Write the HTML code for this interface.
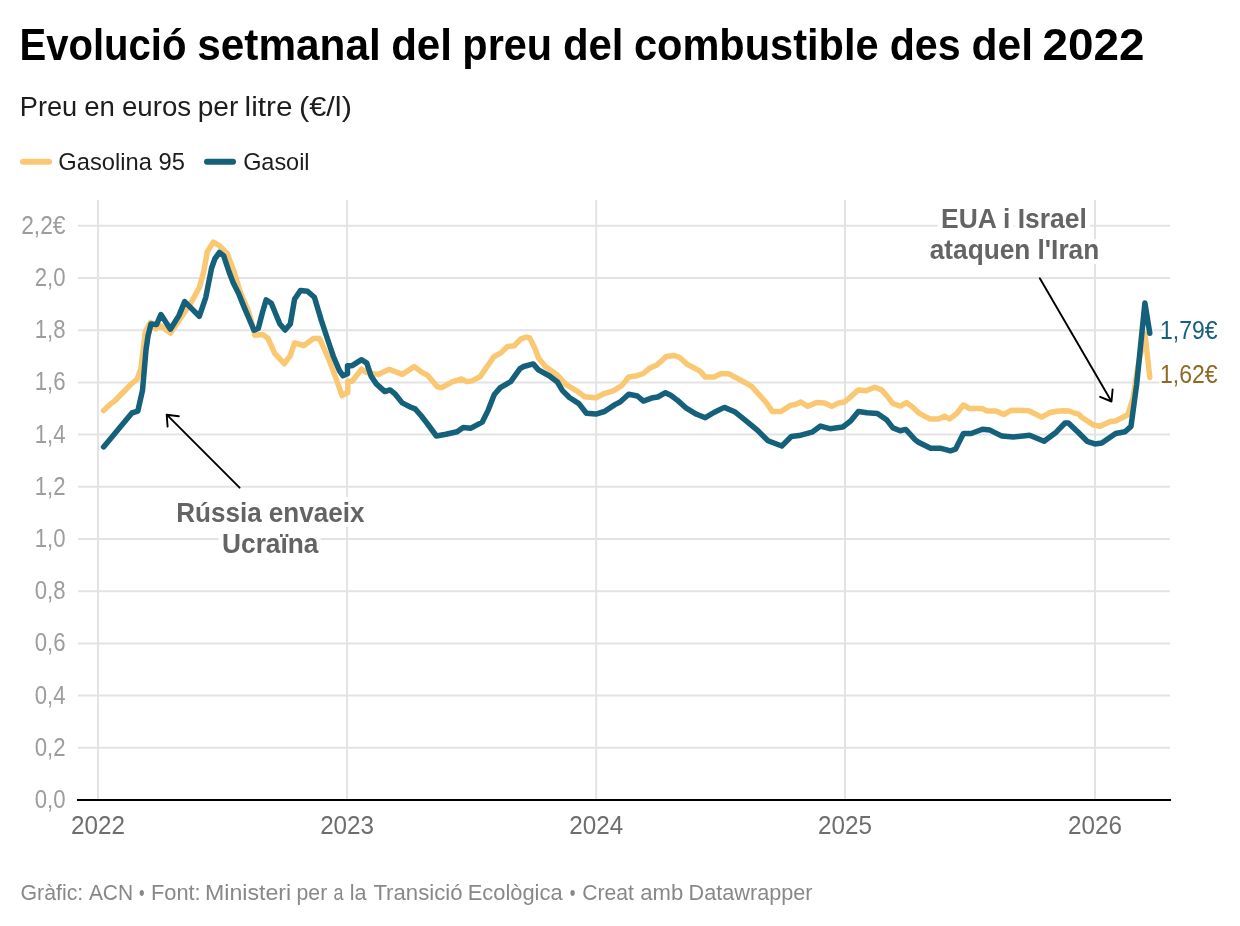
<!DOCTYPE html>
<html><head><meta charset="utf-8">
<style>
html,body{margin:0;padding:0;background:#fff;width:1240px;height:926px;overflow:hidden}
svg{position:absolute;left:0;top:0;display:block;will-change:transform}
text{font-family:"Liberation Sans",sans-serif}
</style></head><body>
<svg width="1240" height="926" viewBox="0 0 1240 926">
<rect width="1240" height="926" fill="#fff"/>
<text x="19.43" y="59.7" font-size="45" font-weight="bold" fill="#000" textLength="166.95" lengthAdjust="spacingAndGlyphs">Evolució</text><text x="197.22" y="59.7" font-size="45" font-weight="bold" fill="#000" textLength="183.51" lengthAdjust="spacingAndGlyphs">setmanal</text><text x="391.13" y="59.7" font-size="45" font-weight="bold" fill="#000" textLength="60.91" lengthAdjust="spacingAndGlyphs">del</text><text x="462.34" y="59.7" font-size="45" font-weight="bold" fill="#000" textLength="89.78" lengthAdjust="spacingAndGlyphs">preu</text><text x="562.94" y="59.7" font-size="45" font-weight="bold" fill="#000" textLength="60.59" lengthAdjust="spacingAndGlyphs">del</text><text x="633.95" y="59.7" font-size="45" font-weight="bold" fill="#000" textLength="244.61" lengthAdjust="spacingAndGlyphs">combustible</text><text x="889.67" y="59.7" font-size="45" font-weight="bold" fill="#000" textLength="70.94" lengthAdjust="spacingAndGlyphs">des</text><text x="971.51" y="59.7" font-size="45" font-weight="bold" fill="#000" textLength="61.56" lengthAdjust="spacingAndGlyphs">del</text><text x="1042.46" y="59.7" font-size="45" font-weight="bold" fill="#000" textLength="101.99" lengthAdjust="spacingAndGlyphs">2022</text>
<text x="19.77" y="115.6" font-size="26.8" fill="#1d1d1d" textLength="57.46" lengthAdjust="spacingAndGlyphs">Preu</text><text x="84.17" y="115.6" font-size="26.8" fill="#1d1d1d" textLength="30.70" lengthAdjust="spacingAndGlyphs">en</text><text x="121.97" y="115.6" font-size="26.8" fill="#1d1d1d" textLength="69.21" lengthAdjust="spacingAndGlyphs">euros</text><text x="197.71" y="115.6" font-size="26.8" fill="#1d1d1d" textLength="40.56" lengthAdjust="spacingAndGlyphs">per</text><text x="244.58" y="115.6" font-size="26.8" fill="#1d1d1d" textLength="47.94" lengthAdjust="spacingAndGlyphs">litre</text><text x="299.01" y="115.6" font-size="26.8" fill="#1d1d1d" textLength="52.92" lengthAdjust="spacingAndGlyphs">(€/l)</text>
<line x1="23" y1="161.8" x2="49" y2="161.8" stroke="#fac773" stroke-width="6" stroke-linecap="round"/>
<text x="58.33" y="169.6" font-size="24.5" fill="#1d1d1d" textLength="126.51" lengthAdjust="spacingAndGlyphs">Gasolina 95</text><text x="243.14" y="169.6" font-size="24.5" fill="#1d1d1d" textLength="66.45" lengthAdjust="spacingAndGlyphs">Gasoil</text>
<line x1="207" y1="161.8" x2="233" y2="161.8" stroke="#15607a" stroke-width="6" stroke-linecap="round"/>

<g stroke="#e3e3e3" stroke-width="2">
<line x1="78" y1="747.8" x2="1170" y2="747.8"/><line x1="78" y1="695.6" x2="1170" y2="695.6"/><line x1="78" y1="643.4" x2="1170" y2="643.4"/><line x1="78" y1="591.2" x2="1170" y2="591.2"/><line x1="78" y1="539.0" x2="1170" y2="539.0"/><line x1="78" y1="486.8" x2="1170" y2="486.8"/><line x1="78" y1="434.6" x2="1170" y2="434.6"/><line x1="78" y1="382.4" x2="1170" y2="382.4"/><line x1="78" y1="330.2" x2="1170" y2="330.2"/><line x1="78" y1="278.0" x2="1170" y2="278.0"/><line x1="78" y1="225.8" x2="1170" y2="225.8"/><line x1="98" y1="200" x2="98" y2="799"/><line x1="347.1" y1="200" x2="347.1" y2="799"/><line x1="596.2" y1="200" x2="596.2" y2="799"/><line x1="845" y1="200" x2="845" y2="799"/><line x1="1095" y1="200" x2="1095" y2="799"/>
</g>
<line x1="77" y1="800" x2="1171" y2="800" stroke="#000" stroke-width="2"/>
<g font-size="25.3" fill="#9d9d9d">
<text x="65.5" y="807.9" text-anchor="end" textLength="30.8" lengthAdjust="spacingAndGlyphs">0,0</text><text x="65.5" y="755.7" text-anchor="end" textLength="30.8" lengthAdjust="spacingAndGlyphs">0,2</text><text x="65.5" y="703.5" text-anchor="end" textLength="30.8" lengthAdjust="spacingAndGlyphs">0,4</text><text x="65.5" y="651.3" text-anchor="end" textLength="30.8" lengthAdjust="spacingAndGlyphs">0,6</text><text x="65.5" y="599.1" text-anchor="end" textLength="30.8" lengthAdjust="spacingAndGlyphs">0,8</text><text x="65.5" y="546.9" text-anchor="end" textLength="30.8" lengthAdjust="spacingAndGlyphs">1,0</text><text x="65.5" y="494.7" text-anchor="end" textLength="30.8" lengthAdjust="spacingAndGlyphs">1,2</text><text x="65.5" y="442.5" text-anchor="end" textLength="30.8" lengthAdjust="spacingAndGlyphs">1,4</text><text x="65.5" y="390.3" text-anchor="end" textLength="30.8" lengthAdjust="spacingAndGlyphs">1,6</text><text x="65.5" y="338.1" text-anchor="end" textLength="30.8" lengthAdjust="spacingAndGlyphs">1,8</text><text x="65.5" y="285.9" text-anchor="end" textLength="30.8" lengthAdjust="spacingAndGlyphs">2,0</text><text x="65.5" y="233.7" text-anchor="end" textLength="44.3" lengthAdjust="spacingAndGlyphs">2,2€</text>
</g>
<g font-size="25.8" fill="#6e6e6e">
<text x="98" y="833.8" text-anchor="middle" textLength="53.9" lengthAdjust="spacingAndGlyphs">2022</text><text x="347.1" y="833.8" text-anchor="middle" textLength="53.9" lengthAdjust="spacingAndGlyphs">2023</text><text x="596.2" y="833.8" text-anchor="middle" textLength="53.9" lengthAdjust="spacingAndGlyphs">2024</text><text x="845" y="833.8" text-anchor="middle" textLength="53.9" lengthAdjust="spacingAndGlyphs">2025</text><text x="1095" y="833.8" text-anchor="middle" textLength="53.9" lengthAdjust="spacingAndGlyphs">2026</text>
</g>
<g fill="none" stroke-linejoin="round" stroke-linecap="round" stroke-width="5.5">
<path d="M103.6,410.6 L110.5,404.1 L115.2,400.5 L130.7,384.5 L137.2,379.1 L141,367.8 L145.3,331.8 L150.5,322.3 L155.7,328.8 L160.5,325.8 L170.4,333.1 L180.8,318 L192,301 L199.5,287 L203.8,271.5 L207.3,251.6 L213.3,242.1 L218.5,245.1 L227.1,253.3 L234,271.5 L239.2,288.7 L243.6,299.9 L248.8,312 L254.9,335.3 L262.6,334.4 L267.8,338 L274.7,353.3 L284.2,363.7 L290.2,355.9 L294.5,343 L304,345.5 L313.5,338.6 L319.6,338.6 L329.1,360.2 L336,378.4 L342,395.6 L347.8,392.5 L347.8,381.3 L352.1,381.3 L361.6,369.2 L366.8,372.6 L378,374.4 L389.2,369.2 L402.2,374.4 L414.3,366.6 L421.2,371.8 L427.8,375.5 L437.3,386.8 L441.6,387.6 L452.8,381.6 L461.5,379 L466.6,381.6 L472.7,380.7 L480.4,376.4 L485.6,368.6 L491.7,360 L493.5,357 L501.2,352.6 L507.3,346.6 L514.2,345.7 L521.1,338.8 L526.3,337.1 L529.7,338 L534.9,348.3 L538.4,357.8 L545.3,366.5 L557.4,375.1 L566,384.6 L576.4,390.6 L584.7,396.8 L595.9,397.7 L602.8,394.2 L613.2,390.8 L621.8,385.6 L628.7,377 L635.6,376.1 L643.4,373.5 L649.4,368.3 L656.9,365 L666.4,356.4 L674.2,355.5 L679.4,357.3 L687.1,364.2 L700.1,371.1 L705.3,377.1 L713.9,377.1 L720.8,373.7 L728.6,373.7 L741.2,380.4 L751.6,386.4 L759.4,395 L767.1,403.7 L772.3,411.5 L781,411.5 L790.4,405.4 L795.6,404.5 L800.8,402 L807.7,406.3 L816.6,402.4 L824.4,403 L831.6,406.3 L839.4,402.8 L844.5,402 L850.6,396.8 L858.4,389.9 L866.1,390.7 L874.8,387.3 L881.7,389.9 L887.7,396.8 L892.9,403.7 L900.5,406.1 L906.4,402.5 L913.3,407.6 L918.5,412.8 L929.7,418.9 L938.4,418.9 L944.4,416.3 L949.6,418.9 L956.5,413.7 L963.4,405 L969.4,408.5 L982.1,408.5 L987.3,411.1 L995.9,411.1 L1003.7,414.5 L1011.5,410.2 L1028.7,410.7 L1041.7,417.1 L1049.4,412.8 L1056.7,411.3 L1064,410.8 L1069,411 L1073.7,412.8 L1078.6,414.2 L1082,417.5 L1093.2,424.9 L1100.1,426.2 L1110.4,421.5 L1115.6,421 L1127.8,414.7 L1133,398 L1138,366 L1145,334 L1149.8,377.5" stroke="#fac773"/>
<path d="M103.6,446.9 L131.9,413 L137.8,411.2 L142.5,390.4 L146,350 L148,336.1 L151,324 L156.6,324.5 L160.9,314.5 L170.4,329.2 L179,315.4 L184.7,301.6 L199.3,316.3 L205.8,297.3 L211.6,268 L215,258.5 L219.4,252.5 L223.7,255.9 L228.9,271.5 L233.2,282.7 L238.4,293 L243.6,305.9 L248,316.3 L254,330.1 L258.3,328.4 L262.6,312 L266.1,299.9 L271.3,303.3 L279.9,324 L285.1,330 L290.3,324 L294.6,299 L300.6,290.4 L307.5,291.2 L314.4,297.3 L321.4,320.6 L330,346.5 L333.4,356.5 L339.4,370.6 L342.9,375.8 L347.5,373.8 L347.5,365.7 L352.1,365.7 L361.6,359.7 L366.8,363.1 L371.1,376.1 L376.3,383.9 L384.9,391.6 L390.1,389.9 L395.3,394.2 L402.2,402.9 L410.8,407.2 L415.1,408.9 L421.2,415.8 L427.2,423.5 L436.4,436 L445.9,434.3 L457.1,431.7 L463.2,427.4 L471,428.2 L482.2,422.2 L488.2,410.1 L494.3,394.5 L500.3,387.6 L510.7,381.6 L520,368.6 L523.7,366.5 L533.2,363.9 L538.4,369.9 L549.6,376 L557.4,382 L562.5,390.6 L569.4,397.5 L578.9,403.6 L586.4,413.2 L595.9,414.1 L604.5,411.5 L614.9,404.6 L620.1,402 L628.7,394.2 L637.4,396 L643.4,401.1 L652.9,397.7 L657.8,397 L665.5,392.7 L670.7,395.3 L677.6,400.4 L686.3,408.2 L696.6,414.3 L705.3,417.7 L713.9,412.5 L724.3,407.4 L734.6,411.7 L747.3,421.8 L757.6,430.4 L768,440.8 L781.8,446 L791.3,436.5 L799.1,435.6 L812,432.2 L820.5,426.1 L829.9,428.7 L842.8,427 L850.6,421 L858.4,411.5 L867,412.7 L877.4,413.6 L886.9,420.1 L892.9,427.9 L900.2,430.7 L905.7,429.4 L915,439.6 L918.5,442.2 L930.6,448.2 L940.1,448.2 L950.4,450.8 L955.6,449.1 L963.4,433.5 L971.2,433.5 L982.5,429.2 L989.9,430.1 L1002,436.1 L1013.2,437 L1029.6,435.3 L1044.1,441.2 L1056.2,432.2 L1065,423 L1068.4,423 L1077.6,431.8 L1087.1,441.3 L1094.9,443.9 L1101.8,443 L1115.6,433.5 L1125.1,431.8 L1131,426.4 L1136.6,385 L1144.9,303 L1149.8,333.3" stroke="#15607a"/>
</g>
<g stroke="#000" stroke-width="1.9" fill="none" stroke-linecap="round" stroke-linejoin="round">
<path d="M239.6,487.7 L166.7,414.7 M178.8,416.2 L166.7,414.7 L167.6,426.6"/>
<path d="M1039.8,278.3 L1111.5,401.5 M1100.1,396.8 L1111.5,401.5 L1112.6,389.5"/>
</g>
<g font-size="27" font-weight="bold" fill="#646464" stroke="#fff" stroke-width="10" paint-order="stroke" stroke-linejoin="round">
<text x="941.05" y="227.7"  textLength="145.69" lengthAdjust="spacingAndGlyphs">EUA i Israel</text><text x="929.73" y="258.5"  textLength="169.50" lengthAdjust="spacingAndGlyphs">ataquen l'Iran</text><text x="176.17" y="521.6"  textLength="188.35" lengthAdjust="spacingAndGlyphs">Rússia envaeix</text><text x="222.05" y="553"  textLength="96.41" lengthAdjust="spacingAndGlyphs">Ucraïna</text>
</g>
<g font-size="25" stroke="#fff" stroke-width="5" paint-order="stroke" stroke-linejoin="round">
<text x="1160" y="338.9" fill="#15607a" textLength="57.5" lengthAdjust="spacingAndGlyphs">1,79€</text>
<text x="1160" y="383.1" fill="#8f6a24" textLength="57.5" lengthAdjust="spacingAndGlyphs">1,62€</text>
</g>
<text x="20.56" y="899.8" font-size="22.7" fill="#888" textLength="62.74" lengthAdjust="spacingAndGlyphs">Gràfic:</text><text x="88.90" y="899.8" font-size="22.7" fill="#888" textLength="44.26" lengthAdjust="spacingAndGlyphs">ACN</text><text x="139.10" y="899.8" font-size="22.7" fill="#888" textLength="5.57" lengthAdjust="spacingAndGlyphs">•</text><text x="150.98" y="899.8" font-size="22.7" fill="#888" textLength="49.66" lengthAdjust="spacingAndGlyphs">Font:</text><text x="205.06" y="899.8" font-size="22.7" fill="#888" textLength="86.03" lengthAdjust="spacingAndGlyphs">Ministeri</text><text x="296.57" y="899.8" font-size="22.7" fill="#888" textLength="30.64" lengthAdjust="spacingAndGlyphs">per</text><text x="333.61" y="899.8" font-size="22.7" fill="#888" textLength="9.99" lengthAdjust="spacingAndGlyphs">a</text><text x="349.80" y="899.8" font-size="22.7" fill="#888" textLength="16.79" lengthAdjust="spacingAndGlyphs">la</text><text x="373.40" y="899.8" font-size="22.7" fill="#888" textLength="89.08" lengthAdjust="spacingAndGlyphs">Transició</text><text x="467.77" y="899.8" font-size="22.7" fill="#888" textLength="94.79" lengthAdjust="spacingAndGlyphs">Ecològica</text><text x="569.78" y="899.8" font-size="22.7" fill="#888" textLength="5.70" lengthAdjust="spacingAndGlyphs">•</text><text x="582.17" y="899.8" font-size="22.7" fill="#888" textLength="51.68" lengthAdjust="spacingAndGlyphs">Creat</text><text x="640.33" y="899.8" font-size="22.7" fill="#888" textLength="42.98" lengthAdjust="spacingAndGlyphs">amb</text><text x="688.59" y="899.8" font-size="22.7" fill="#888" textLength="124.00" lengthAdjust="spacingAndGlyphs">Datawrapper</text>
</svg>
</body></html>
